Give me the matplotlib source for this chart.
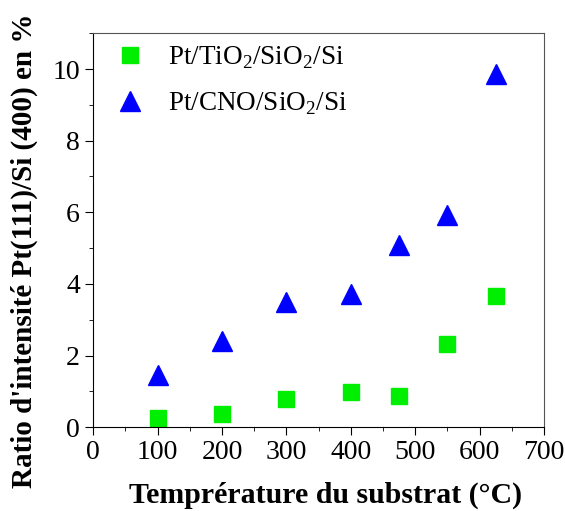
import matplotlib
matplotlib.use('Agg')
import matplotlib.pyplot as plt
from matplotlib.ticker import MultipleLocator

plt.rcParams['font.family'] = 'Liberation Serif'
plt.rcParams['mathtext.fontset'] = 'custom'
plt.rcParams['mathtext.rm'] = 'Liberation Serif'

# substrate temperature (°C)
temp = [100, 200, 300, 400, 475, 550, 625]
# Pt(111)/Si(400) ratio (%)
tio2 = [0.25, 0.38, 0.78, 0.98, 0.88, 2.32, 3.65]
cno = [1.45, 2.40, 3.50, 3.72, 5.10, 5.92, 9.85]

fig = plt.figure(figsize=(5.65, 5.11), dpi=100)
ax = fig.add_axes([0.165, 0.164, 0.798, 0.771])

ax.plot(temp, tio2, 's', color='#00ee00', ms=12, label=r'Pt/TiO$_2$/SiO$_2$/Si', clip_on=False)
ax.plot(temp, cno, '^', color='#0000ff', ms=14, label=r'Pt/CNO/SiO$_2$/Si', clip_on=False)

ax.set_xlim(0, 700)
ax.set_ylim(0, 11)
ax.xaxis.set_major_locator(MultipleLocator(100))
ax.xaxis.set_minor_locator(MultipleLocator(50))
ax.yaxis.set_major_locator(MultipleLocator(2))
ax.yaxis.set_minor_locator(MultipleLocator(1))
ax.tick_params(which='major', direction='out', length=6, labelsize=20, top=False, right=False)
ax.tick_params(which='minor', direction='out', length=3, top=False, right=False)
for s in ['top', 'right']:
    ax.spines[s].set_color('#555555')

# axis titles placed like in the original figure
fig.text(0.577, 0.031, 'Temprérature du substrat (°C)', fontsize=21.5, fontweight='bold',
         ha='center', va='center')
fig.text(0.043, 0.509, "Ratio d'intensité Pt(111)/Si (400) en %", fontsize=21, fontweight='bold',
         ha='center', va='center', rotation=90)

leg = ax.legend(loc='upper left', frameon=False, fontsize=19.5, handletextpad=0.6,
                labelspacing=0.75, borderaxespad=0.0, handlelength=1.6,
                bbox_to_anchor=(0.01, 1.0))

fig.savefig('out.png', dpi=100)
